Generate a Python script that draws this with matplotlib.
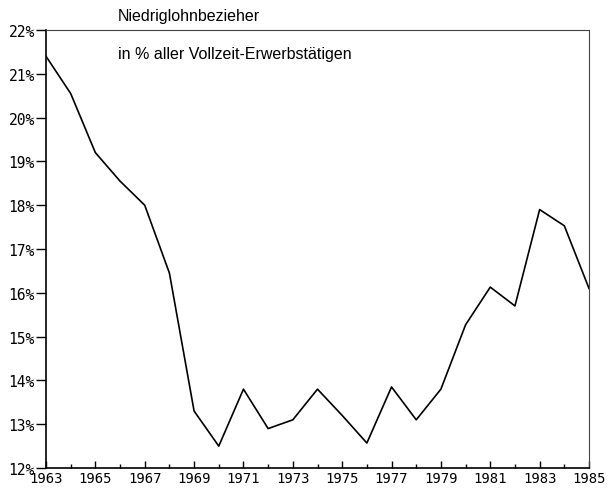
import matplotlib
matplotlib.use("Agg")
import matplotlib.pyplot as plt
from matplotlib.ticker import MultipleLocator, FixedLocator

years = list(range(1963, 1986))
values = [21.4, 20.55, 19.2, 18.55, 18.0, 16.45, 13.3, 12.5, 13.8, 12.9,
          13.1, 13.8, 13.2, 12.57, 13.85, 13.1, 13.8, 15.27, 16.13, 15.7,
          17.9, 17.53, 16.1]
xtick_years = list(range(1963, 1986, 2))
ytick_vals = list(range(12, 23))
title_line1 = "Niedriglohnbezieher"
title_line2 = "in % aller Vollzeit-Erwerbstätigen"

fig = plt.figure(figsize=(6.13, 4.89), dpi=100)
ax = fig.add_axes([46/613, 20/489, (589-46)/613, (469-31)/489])
ax.plot(years, values, color="black", lw=1.2)
ax.set_xlim(1963, 1985)
ax.set_ylim(12, 22)

ax.xaxis.set_major_locator(FixedLocator(xtick_years))
ax.xaxis.set_minor_locator(MultipleLocator(1))
ax.set_xticklabels([str(y) for y in xtick_years], family="DejaVu Sans Mono", fontsize=10)
ax.set_yticks(ytick_vals)
ax.set_yticklabels([f"{v}%" for v in ytick_vals], family="DejaVu Sans Mono", fontsize=10.5)

ax.tick_params(axis="x", which="major", direction="in", length=5, width=1, pad=2)
ax.tick_params(axis="x", which="minor", direction="in", length=3, width=1)
ax.tick_params(axis="y", which="major", direction="out", length=7, width=1, pad=1)

for s in ["left", "bottom"]:
    ax.spines[s].set_linewidth(1.2)
for s in ["top", "right"]:
    ax.spines[s].set_linewidth(0.8)
    ax.spines[s].set_color("#444444")

fig.text(118/613, 1 - 17/489, title_line1, family="Liberation Sans", fontsize=11.5,
         va="center", ha="left")
fig.text(118/613, 1 - 54/489, title_line2, family="Liberation Sans", fontsize=11.5,
         va="center", ha="left")

fig.savefig("out.png", dpi=100)
